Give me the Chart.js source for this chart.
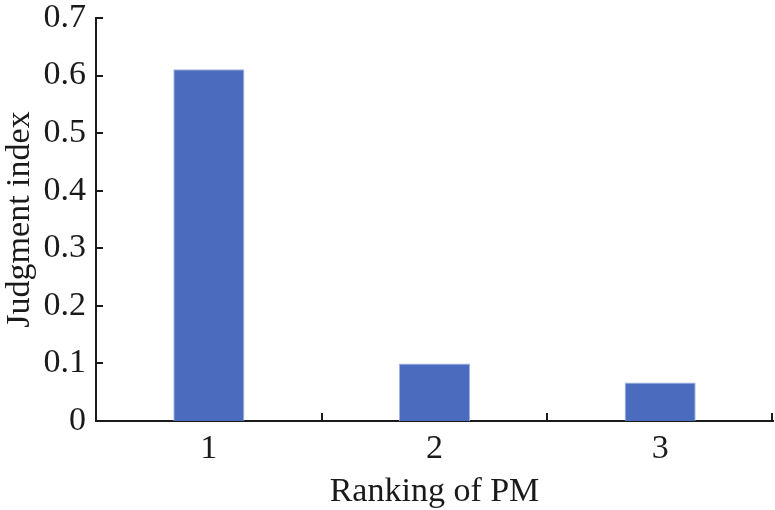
<!DOCTYPE html>
<html>
<head>
<meta charset="utf-8">
<script src="https://cdn.jsdelivr.net/npm/chart.js@4/dist/chart.umd.min.js"></script>
<style>
  html,body{margin:0;padding:0;background:#fff;}
  #wrap{width:775px;height:510px;}
</style>
</head>
<body>
<div id="wrap"><canvas id="c" width="775" height="510"></canvas></div>
<script>
// data
const rankings = ['1', '2', '3'];
const judgment = [0.611, 0.100, 0.067];
const yTicks = [0, 0.1, 0.2, 0.3, 0.4, 0.5, 0.6, 0.7];

const ink = '#1a1a1a';
const fam = '"Liberation Serif"';
Chart.defaults.font.family = fam;
Chart.defaults.color = ink;

// ticks inside the plot: y ticks point right, x category boundaries point up
const innerTicks = {
  id: 'innerTicks',
  afterDraw(chart){
    const {ctx, chartArea:a, scales:{x, y}} = chart;
    ctx.save();
    ctx.strokeStyle = ink; ctx.lineWidth = 2;
    ctx.beginPath();
    yTicks.forEach(v => {
      if(v === 0) return;
      const py = Math.round(y.getPixelForValue(v));
      ctx.moveTo(a.left, py); ctx.lineTo(a.left + 7, py);
    });
    for(let i=1;i<=rankings.length;i++){
      const px = Math.min(Math.round(x.getPixelForValue(i - 0.5)), a.right - 1);
      ctx.moveTo(px, a.bottom); ctx.lineTo(px, a.bottom - 8);
    }
    ctx.stroke();
    ctx.restore();
  }
};

function draw(){
  new Chart(document.getElementById('c'), {
    type: 'bar',
    data: {
      labels: rankings,
      datasets: [{
        data: judgment,
        backgroundColor: '#4a6bbe',
        borderColor: '#9fb3dd',
        borderWidth: 1,
        categoryPercentage: 1,
        barPercentage: 0.315
      }]
    },
    options: {
      responsive: false,
      animation: false,
      layout: {padding: {top: 18, right: 2, left: 0, bottom: 0}},
      plugins: {legend: {display: false}, tooltip: {enabled: false}},
      scales: {
        x: {
          offset: true,
          grid: {display: false},
          border: {display: true, color: ink, width: 2},
          ticks: {font: {size: 34}, padding: 0, color: ink},
          title: {display: true, text: 'Ranking of PM', font: {size: 34}, color: ink, padding: {top: 0, bottom: -2}},
          afterFit(s){ s.height = 89; }
        },
        y: {
          min: 0, max: 0.7,
          grid: {display: false},
          border: {display: true, color: ink, width: 2},
          afterBuildTicks(s){ s.ticks = yTicks.map(v => ({value: v})); },
          ticks: {
            font: {size: 34}, padding: 2, color: ink,
            callback: v => v === 0 ? '0' : v.toFixed(1)
          },
          title: {display: true, text: 'Judgment index', font: {size: 34}, color: ink, padding: {top: 0, bottom: 0}},
          afterFit(s){ s.width = 96; s.paddingTop = 0; s.paddingBottom = 0; }
        }
      }
    },
    plugins: [innerTicks]
  });
}

document.fonts.load('34px ' + fam).then(draw, draw);
</script>
</body>
</html>
